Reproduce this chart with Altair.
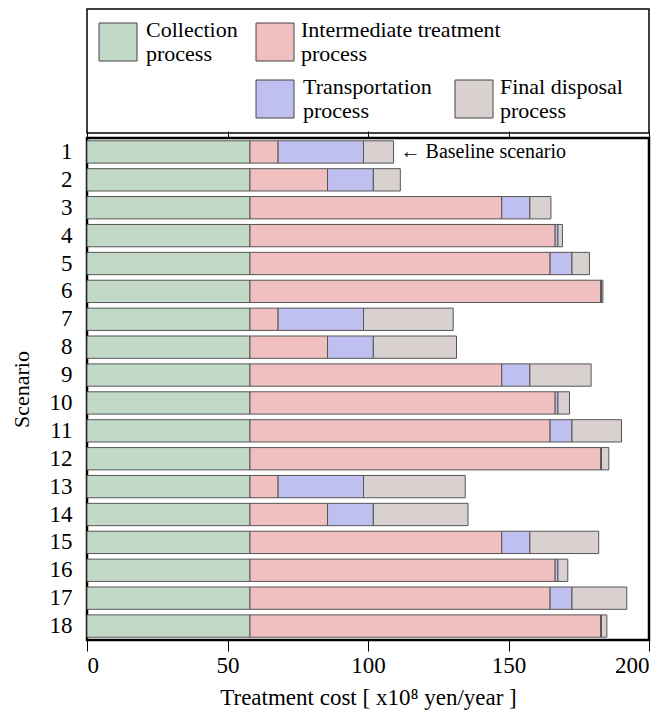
import altair as alt
import pandas as pd

scenarios = list(range(1, 19))
processes = ["Collection process", "Intermediate treatment process",
             "Transportation process", "Final disposal process"]
colors = ["#c2d9c8", "#f0c0c1", "#c0c0f0", "#d9d1d0"]

collection = [58.0] * 18
intermediate = [10.0, 27.6, 89.6, 108.6, 106.8, 124.8,
                10.0, 27.6, 89.6, 108.6, 106.8, 124.8,
                10.0, 27.6, 89.6, 108.6, 106.8, 124.8]
transport = [30.4, 16.3, 10.0, 1.0, 7.8, 0.3,
             30.4, 16.3, 10.0, 1.0, 7.8, 0.3,
             30.4, 16.3, 10.0, 1.0, 7.8, 0.3]
final = [10.7, 9.6, 7.5, 1.6, 6.2, 0.5,
         31.9, 29.6, 21.8, 4.1, 17.6, 2.6,
         36.2, 33.7, 24.5, 3.5, 19.5, 1.9]

series = [collection, intermediate, transport, final]
rows = []
for pi, (p, vals) in enumerate(zip(processes, series)):
    for s, v in zip(scenarios, vals):
        rows.append({"Scenario": s, "process": p, "order": pi, "value": v})
df = pd.DataFrame(rows)

annot = pd.DataFrame({
    "Scenario": [1],
    "total": [collection[0] + intermediate[0] + transport[0] + final[0]],
    "label": ["\u2190 Baseline scenario"],
})

color_scale = alt.Scale(domain=processes, range=colors)
FONT = "Liberation Serif"

bars = alt.Chart(df).mark_bar(stroke="#555555", strokeWidth=1).encode(
    y=alt.Y("Scenario:O", sort=scenarios,
            scale=alt.Scale(paddingInner=0.2, paddingOuter=0.1),
            axis=alt.Axis(title="Scenario", ticks=False, domain=False,
                          labelPadding=15, labelFontSize=23, titleFontSize=22,
                          titleFontWeight="normal", titleColor="black",
                          labelColor="black", titlePadding=16)),
    x=alt.X("value:Q", stack="zero", scale=alt.Scale(domain=[0, 200]),
            axis=alt.Axis(values=[0, 50, 100, 150, 200], grid=False, domain=False,
                          tickSize=11, tickColor="black", labelFontSize=23,
                          labelColor="black", labelPadding=3,
                          title="Treatment cost  [ x10\u2078 yen/year ]",
                          titleFontSize=23, titleFontWeight="normal",
                          titleColor="black", titlePadding=9)),
    color=alt.Color("process:N", scale=color_scale, legend=None),
    order=alt.Order("order:Q"),
)

text = alt.Chart(annot).mark_text(align="left", baseline="middle", dx=7,
                                  fontSize=20, font=FONT).encode(
    y=alt.Y("Scenario:O", sort=scenarios),
    x=alt.X("total:Q", scale=alt.Scale(domain=[0, 200]),
            axis=alt.Axis(orient="top", values=[0, 50, 100, 150, 200], labels=False,
                          title=None, grid=False, domain=False, tickSize=7,
                          tickColor="black")),
    text="label:N",
)

main = alt.layer(bars, text).resolve_axis(x="independent").properties(
    width=562, height=502,
    view=alt.ViewBackground(stroke="black", strokeWidth=2.5),
)

# legend panel layout
leg_labels = ["Collection\nprocess", "Intermediate treatment\nprocess",
              "Transportation\nprocess", "Final disposal\nprocess"]
leg_x = [12, 169, 169, 368]
leg_y = [14, 14, 71, 71]
leg_tx = [59, 214, 216, 413]
leg = pd.DataFrame({
    "process": processes,
    "label": leg_labels,
    "sx": leg_x,
    "sx2": [v + 38 for v in leg_x],
    "sy": leg_y,
    "sy2": [v + 38 for v in leg_y],
    "tx": leg_tx,
    "ty": [v - 3 for v in leg_y],
})

swatch = alt.Chart(leg).mark_rect(stroke="#444444", strokeWidth=1).encode(
    x=alt.X("sx:Q", scale=None), x2="sx2:Q",
    y=alt.Y("sy:Q", scale=None), y2="sy2:Q",
    color=alt.Color("process:N", scale=color_scale, legend=None),
)
legtext = alt.Chart(leg).mark_text(align="left", baseline="top", lineBreak="\n",
                                   fontSize=22, lineHeight=24, font=FONT).encode(
    x=alt.X("tx:Q", scale=None),
    y=alt.Y("ty:Q", scale=None),
    text="label:N",
)
legend_panel = alt.layer(swatch, legtext).properties(
    width=562, height=124,
    view=alt.ViewBackground(stroke="black", strokeWidth=1.5),
)

chart = alt.vconcat(legend_panel, main, spacing=-5).properties(
    padding=0
).configure(
    font=FONT
).configure_axis(labelFont=FONT, titleFont=FONT)

chart.save("out.html", embed_options={"renderer": "svg", "actions": False})
